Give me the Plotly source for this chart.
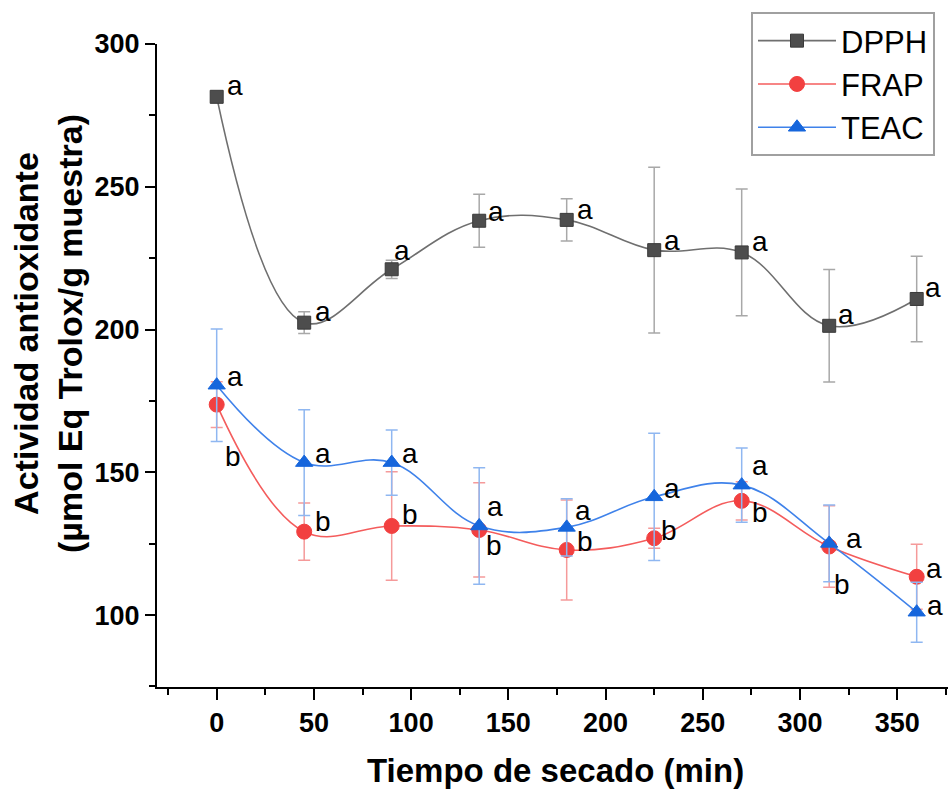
import plotly.graph_objects as go

# ---- data ----
tiempo = [0, 45, 90, 135, 180, 225, 270, 315, 360]

dpph = [281.5, 202.4, 221.1, 238.1, 238.4, 227.8, 227.0, 201.3, 210.7]
dpph_err = [1.5, 3.8, 3.2, 9.3, 7.4, 29.0, 22.2, 19.7, 15.0]
dpph_let = ["a", "a", "a", "a", "a", "a", "a", "a", "a"]

frap = [173.7, 129.2, 131.2, 129.8, 122.8, 126.9, 140.0, 124.0, 113.4]
frap_err = [8.0, 10.0, 19.0, 16.5, 17.5, 3.5, 6.7, 14.3, 11.4]
frap_let = ["b", "b", "b", "b", "b", "b", "b", "b", "a"]

teac = [180.5, 153.4, 153.4, 131.2, 130.7, 141.4, 145.5, 125.1, 101.0]
teac_err = [19.7, 18.5, 11.4, 20.4, 10.0, 22.3, 13.0, 13.4, 10.5]
teac_let = ["a", "a", "a", "a", "a", "a", "a", "a", "a"]

x_ticks = [0, 50, 100, 150, 200, 250, 300, 350]
y_ticks = [100, 150, 200, 250, 300]

# ---- label offsets (pixels, right / down) : styling only ----
dpph_off = [(18, -11), (19, -11), (10, -19), (17, -9), (18, -10), (18, -10), (18, -11), (17, -11), (16, -11)]
frap_off = [(16, 52), (19, -10), (18, -11), (15, 16), (18, -8), (15, -8), (18, 12), (13, 38), (17, -8)]
teac_off = [(18, -9), (19, -9), (18, -9), (16, -19), (16, -17), (18, -8), (18, -20), (25, -5), (18, -7)]

FONT = "Liberation Sans, Arial, sans-serif"

series = [
    dict(name="DPPH", y=dpph, err=dpph_err, let=dpph_let, off=dpph_off,
         line="#6f6f6f", mk="#4d4d4d", mkline="#3a3a3a", errc="#a8a8a8",
         symbol="square", size=13),
    dict(name="FRAP", y=frap, err=frap_err, let=frap_let, off=frap_off,
         line="#f45c5c", mk="#f24040", mkline="#f24040", errc="#f59a9a",
         symbol="circle", size=15),
    dict(name="TEAC", y=teac, err=teac_err, let=teac_let, off=teac_off,
         line="#3f82ea", mk="#1666dc", mkline="#1666dc", errc="#8fb7f1",
         symbol="triangle-up", size=15),
]

fig = go.Figure()
annotations = []
for s in series:
    fig.add_trace(go.Scatter(
        x=tiempo, y=s["y"], name=s["name"], mode="lines+markers",
        line=dict(color=s["line"], width=1.6, shape="spline", smoothing=1.1),
        marker=dict(symbol=s["symbol"], size=s["size"], color=s["mk"],
                    line=dict(color=s["mkline"], width=1)),
        error_y=dict(type="data", array=s["err"], visible=True,
                     color=s["errc"], thickness=1.5, width=6),
    ))
    for xi, yi, t, (dx, dy) in zip(tiempo, s["y"], s["let"], s["off"]):
        annotations.append(dict(
            x=xi, y=yi, xref="x", yref="y", text=t, showarrow=False,
            xanchor="center", yanchor="middle", xshift=dx, yshift=-dy,
            font=dict(family=FONT, size=28, color="black"),
        ))

# axis titles
annotations.append(dict(
    text="Tiempo de secado (min)", xref="paper", yref="paper",
    x=(555 - 157) / 791, y=-(770 - 687) / 643, xanchor="center", yanchor="middle",
    showarrow=False, font=dict(family=FONT, size=33, color="black", weight="bold"),
))
annotations.append(dict(
    text="Actividad antioxidante<br>(µmol Eq Trolox/g muestra)", xref="paper", yref="paper",
    x=(48 - 157) / 791, y=1 - (334 - 44) / 643, xanchor="center", yanchor="middle",
    textangle=-90, showarrow=False,
    font=dict(family=FONT, size=34, color="black", weight="bold"),
))

fig.update_layout(
    width=948, height=789,
    margin=dict(l=157, r=0, t=44, b=102, autoexpand=False),
    paper_bgcolor="white", plot_bgcolor="white",
    font=dict(family=FONT, color="black"),
    showlegend=True,
    legend=dict(
        x=(751 - 157) / 791, y=1 + (44 - 12) / 643, xanchor="left", yanchor="top",
        bgcolor="white", bordercolor="#a0a0a0", borderwidth=2,
        font=dict(family=FONT, size=31, color="black"),
        itemwidth=78, tracegroupgap=0,
    ),
    annotations=annotations,
    xaxis=dict(
        range=[-30.7, 376.1], tickvals=x_ticks, ticktext=[str(v) for v in x_ticks],
        showgrid=False, zeroline=False, showline=True, linecolor="black", linewidth=2,
        ticks="outside", ticklen=11, tickwidth=2, tickcolor="black",
        tickfont=dict(family=FONT, size=27, color="black", weight="bold"),
        minor=dict(dtick=25, tick0=0, ticks="outside", ticklen=6, tickwidth=2, tickcolor="black"),
    ),
    yaxis=dict(
        range=[74.8, 300], tickvals=y_ticks, ticktext=[str(v) for v in y_ticks],
        showgrid=False, zeroline=False, showline=True, linecolor="black", linewidth=2,
        ticks="outside", ticklen=10, tickwidth=2, tickcolor="black",
        tickfont=dict(family=FONT, size=27, color="black", weight="bold"),
        minor=dict(dtick=25, tick0=0, ticks="outside", ticklen=6, tickwidth=2, tickcolor="black"),
    ),
)

fig.write_html("out.html")
